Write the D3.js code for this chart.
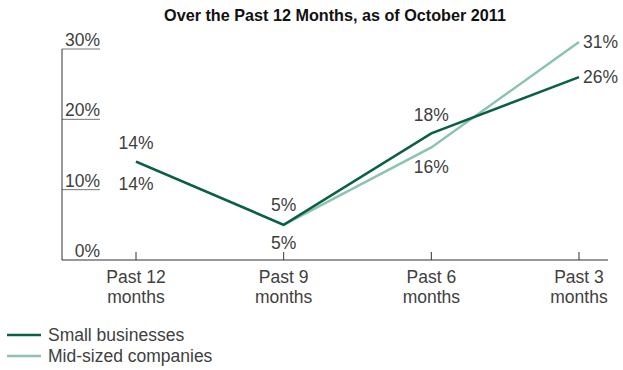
<!DOCTYPE html>
<html>
<head>
<meta charset="utf-8">
<script src="https://cdn.jsdelivr.net/npm/d3@7"></script>
<style>
  body { margin: 0; background: #fff; }
  svg { display: block; font-family: "Liberation Sans", Arial, sans-serif; }
</style>
</head>
<body>
<svg id="chart" width="623" height="370"></svg>
<script>
const periods = ["Past 12\nmonths", "Past 9\nmonths", "Past 6\nmonths", "Past 3\nmonths"];
const smallBusinesses = [14, 5, 18, 26];
const midSizedCompanies = [14, 5, 16, 31];
const yTicks = [0, 10, 20, 30];
const seriesNames = ["Small businesses", "Mid-sized companies"];

const colors = { small: "#0b5f45", mid: "#8dc3b0", text: "#404040", axis: "#333" };
const fontSize = 17.5;

const svg = d3.select("#chart");
const plotLeft = 62, plotRight = 608, plotTop = 49, plotBottom = 260;

const x = d3.scalePoint().domain(d3.range(periods.length)).range([136, 579]);
const y = d3.scaleLinear().domain([0, 30]).range([plotBottom, plotTop]);

svg.append("text").attr("x", 335).attr("y", 21).attr("text-anchor", "middle")
  .attr("font-weight", "bold").attr("font-size", 16.2).attr("fill", "#111")
  .text("Over the Past 12 Months, as of October 2011");

// y ticks drawn as short underlines
yTicks.forEach((t) => {
  if (t > 0) {
    svg.append("line").attr("x1", plotLeft).attr("x2", 100).attr("y1", y(t)).attr("y2", y(t))
      .attr("stroke", "#777").attr("stroke-width", 1);
  }
  svg.append("text").attr("x", 100).attr("y", y(t) - 3).attr("text-anchor", "end")
    .attr("font-size", fontSize).attr("fill", colors.text).text(t + "%");
});

// axes
svg.append("line").attr("x1", plotLeft).attr("x2", plotLeft).attr("y1", plotTop).attr("y2", plotBottom)
  .attr("stroke", colors.axis).attr("stroke-width", 1);
svg.append("line").attr("x1", plotLeft).attr("x2", plotRight).attr("y1", plotBottom).attr("y2", plotBottom)
  .attr("stroke", colors.axis).attr("stroke-width", 1);

periods.forEach((p, i) => {
  svg.append("line").attr("x1", x(i)).attr("x2", x(i)).attr("y1", plotBottom).attr("y2", plotBottom - 8)
    .attr("stroke", colors.axis).attr("stroke-width", 1);
  const t = svg.append("text").attr("text-anchor", "middle").attr("font-size", fontSize).attr("fill", colors.text);
  p.split("\n").forEach((line, j) => {
    t.append("tspan").attr("x", x(i)).attr("y", 283 + j * 19.5).text(line);
  });
});

const line = d3.line().x((d, i) => x(i)).y((d) => y(d));

svg.append("path").datum(midSizedCompanies).attr("d", line).attr("fill", "none")
  .attr("stroke", colors.mid).attr("stroke-width", 2.5);
svg.append("path").datum(smallBusinesses).attr("d", line).attr("fill", "none")
  .attr("stroke", colors.small).attr("stroke-width", 2.5);

// value labels
function valueLabel(xp, yp, txt, anchor) {
  svg.append("text").attr("x", xp).attr("y", yp).attr("text-anchor", anchor || "middle")
    .attr("font-size", fontSize).attr("fill", colors.text).text(txt);
}
valueLabel(x(0), y(smallBusinesses[0]) - 13, smallBusinesses[0] + "%");
valueLabel(x(0), y(midSizedCompanies[0]) + 28, midSizedCompanies[0] + "%");
valueLabel(x(1), y(smallBusinesses[1]) - 14, smallBusinesses[1] + "%");
valueLabel(x(1), y(midSizedCompanies[1]) + 24, midSizedCompanies[1] + "%");
valueLabel(x(2), y(smallBusinesses[2]) - 12, smallBusinesses[2] + "%");
valueLabel(x(2), y(midSizedCompanies[2]) + 26, midSizedCompanies[2] + "%");
valueLabel(x(3) + 4, y(midSizedCompanies[3]) + 6, midSizedCompanies[3] + "%", "start");
valueLabel(x(3) + 4, y(smallBusinesses[3]) + 6, smallBusinesses[3] + "%", "start");

// legend
const legend = svg.append("g").attr("transform", "translate(7, 335)");
[colors.small, colors.mid].forEach((c, i) => {
  legend.append("line").attr("x1", 0).attr("x2", 34).attr("y1", i * 21).attr("y2", i * 21)
    .attr("stroke", c).attr("stroke-width", 2.5);
  legend.append("text").attr("x", 41).attr("y", i * 21 + 6).attr("font-size", fontSize)
    .attr("fill", colors.text).text(seriesNames[i]);
});
</script>
</body>
</html>
